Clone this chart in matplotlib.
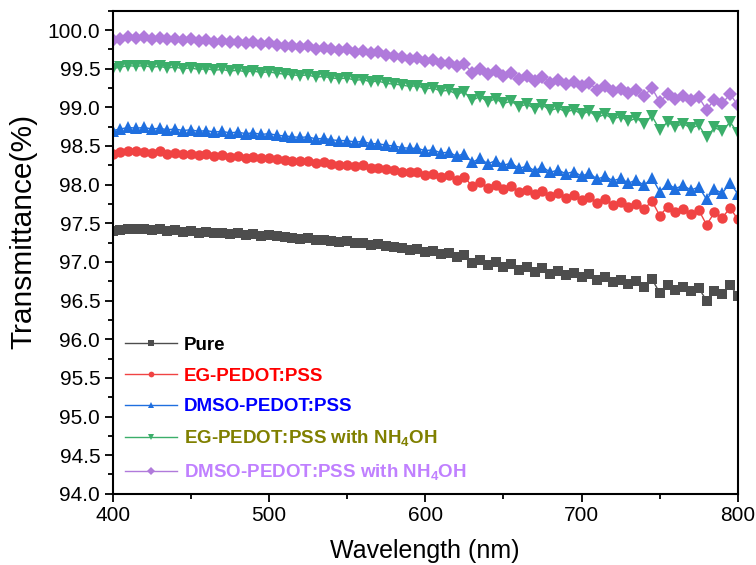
import numpy as np
import matplotlib
matplotlib.use('Agg')
import matplotlib.pyplot as plt
from matplotlib.ticker import MultipleLocator, FormatStrFormatter

plt.rcParams['font.family'] = ['Liberation Sans', 'DejaVu Sans']
plt.rcParams['mathtext.fontset'] = 'custom'
plt.rcParams['mathtext.rm'] = 'Liberation Sans'
plt.rcParams['mathtext.bf'] = 'Liberation Sans:bold'

# wavelength grid (nm), values every 5 nm
wavelength = np.arange(400, 801, 5)

pure = [97.40, 97.41, 97.43, 97.42, 97.43, 97.41, 97.42, 97.40, 97.41, 97.39,
        97.40, 97.38, 97.39, 97.37, 97.38, 97.36, 97.37, 97.35, 97.36, 97.34,
        97.35, 97.33, 97.32, 97.31, 97.30, 97.31, 97.28, 97.29, 97.27, 97.26,
        97.27, 97.24, 97.25, 97.22, 97.23, 97.20, 97.19, 97.18, 97.16, 97.17,
        97.13, 97.14, 97.10, 97.11, 97.06, 97.09, 96.98, 97.03, 96.96, 97.00,
        96.94, 96.97, 96.90, 96.93, 96.87, 96.92, 96.85, 96.88, 96.83, 96.86,
        96.80, 96.84, 96.76, 96.80, 96.74, 96.77, 96.71, 96.75, 96.68, 96.78,
        96.60, 96.70, 96.64, 96.68, 96.62, 96.66, 96.50, 96.63, 96.58, 96.70,
        96.56]

eg = [98.40, 98.42, 98.43, 98.44, 98.42, 98.41, 98.43, 98.40, 98.41, 98.40,
      98.39, 98.38, 98.39, 98.37, 98.38, 98.36, 98.37, 98.35, 98.36, 98.35,
      98.34, 98.33, 98.32, 98.31, 98.31, 98.30, 98.28, 98.29, 98.27, 98.26,
      98.26, 98.24, 98.25, 98.22, 98.22, 98.20, 98.19, 98.17, 98.16, 98.16,
      98.13, 98.14, 98.10, 98.12, 98.06, 98.10, 97.98, 98.04, 97.96, 98.00,
      97.94, 97.98, 97.91, 97.93, 97.88, 97.92, 97.85, 97.89, 97.83, 97.87,
      97.80, 97.84, 97.76, 97.81, 97.74, 97.77, 97.71, 97.75, 97.68, 97.79,
      97.60, 97.71, 97.64, 97.69, 97.62, 97.67, 97.48, 97.64, 97.57, 97.70,
      97.55]

dmso = [98.70, 98.72, 98.74, 98.73, 98.74, 98.72, 98.73, 98.71, 98.72, 98.70,
        98.71, 98.69, 98.70, 98.68, 98.69, 98.67, 98.68, 98.66, 98.67, 98.65,
        98.66, 98.64, 98.63, 98.62, 98.61, 98.62, 98.59, 98.60, 98.58, 98.57,
        98.57, 98.55, 98.56, 98.53, 98.53, 98.51, 98.50, 98.48, 98.47, 98.47,
        98.44, 98.45, 98.41, 98.42, 98.37, 98.40, 98.29, 98.34, 98.27, 98.31,
        98.25, 98.28, 98.21, 98.24, 98.18, 98.23, 98.16, 98.19, 98.14, 98.17,
        98.11, 98.15, 98.07, 98.11, 98.05, 98.08, 98.02, 98.06, 97.99, 98.09,
        97.91, 98.01, 97.95, 97.99, 97.93, 97.97, 97.81, 97.94, 97.89, 98.02,
        97.88]

eg_nh4oh = [99.50, 99.52, 99.54, 99.53, 99.54, 99.52, 99.53, 99.51, 99.52, 99.50,
            99.51, 99.49, 99.50, 99.48, 99.49, 99.47, 99.48, 99.46, 99.47, 99.45,
            99.46, 99.44, 99.43, 99.42, 99.41, 99.42, 99.39, 99.40, 99.38, 99.37,
            99.38, 99.35, 99.36, 99.33, 99.34, 99.31, 99.30, 99.29, 99.27, 99.28,
            99.24, 99.25, 99.21, 99.22, 99.17, 99.20, 99.09, 99.14, 99.07, 99.11,
            99.05, 99.08, 99.01, 99.04, 98.98, 99.03, 98.96, 98.99, 98.94, 98.97,
            98.91, 98.95, 98.87, 98.91, 98.85, 98.88, 98.82, 98.86, 98.79, 98.89,
            98.71, 98.81, 98.75, 98.79, 98.73, 98.77, 98.61, 98.74, 98.69, 98.81,
            98.67]

dmso_nh4oh = [99.87, 99.89, 99.91, 99.90, 99.91, 99.89, 99.90, 99.88, 99.89, 99.87,
              99.88, 99.86, 99.87, 99.85, 99.86, 99.84, 99.85, 99.83, 99.84, 99.82,
              99.83, 99.81, 99.80, 99.79, 99.78, 99.79, 99.76, 99.77, 99.75, 99.74,
              99.75, 99.72, 99.73, 99.70, 99.71, 99.68, 99.67, 99.65, 99.63, 99.64,
              99.60, 99.61, 99.57, 99.58, 99.53, 99.56, 99.45, 99.50, 99.43, 99.47,
              99.41, 99.44, 99.37, 99.40, 99.34, 99.39, 99.32, 99.35, 99.30, 99.33,
              99.27, 99.31, 99.23, 99.27, 99.21, 99.24, 99.18, 99.22, 99.15, 99.25,
              99.07, 99.17, 99.11, 99.15, 99.09, 99.13, 98.97, 99.10, 99.05, 99.17,
              99.03]

labels = ['Pure', 'EG-PEDOT:PSS', 'DMSO-PEDOT:PSS',
          r'EG-PEDOT:PSS with NH$_\mathbf{4}$OH',
          r'DMSO-PEDOT:PSS with NH$_\mathbf{4}$OH']
series = [pure, eg, dmso, eg_nh4oh, dmso_nh4oh]
markers = ['s', 'o', '^', 'v', 'D']
sizes = [7, 7.5, 8, 8, 7]
line_colors = ['#4D4D4D', '#F04343', '#1F6FDF', '#3BAE6A', '#B07ADB']
text_colors = ['#000000', '#FF0000', '#0000FF', '#808000', '#C080FF']

fig = plt.figure(figsize=(7.56, 5.65), dpi=100)
ax = fig.add_axes([0.149, 0.126, 0.827, 0.855])

for y, lab, m, ms, c in zip(series, labels, markers, sizes, line_colors):
    ax.plot(wavelength, y, marker=m, markersize=ms, color=c, linewidth=1,
            markeredgewidth=0, label=lab)

ax.set_xlim(400, 800)
ax.set_ylim(94.0, 100.25)
ax.xaxis.set_major_locator(MultipleLocator(100))
ax.xaxis.set_minor_locator(MultipleLocator(50))
ax.yaxis.set_major_locator(MultipleLocator(0.5))
ax.yaxis.set_minor_locator(MultipleLocator(0.25))
ax.yaxis.set_major_formatter(FormatStrFormatter('%.1f'))
ax.tick_params(which='major', direction='out', length=6, width=1.3,
               labelsize=15, pad=3)
ax.tick_params(which='minor', direction='out', length=3.5, width=1.3)
for sp in ax.spines.values():
    sp.set_linewidth(1.5)

ax.set_xlabel('Wavelength (nm)', fontsize=18, labelpad=10)
ax.set_ylabel('Transmittance(%)', fontsize=21.5)
ax.yaxis.set_label_coords(-0.12, 0.544)

leg = ax.legend(loc='lower left', bbox_to_anchor=(-0.008, -0.012), frameon=False,
                prop={'weight': 'bold', 'size': 13.5}, handlelength=2.8,
                handletextpad=0.35, markerscale=0.55, labelspacing=0.72)
for txt, c in zip(leg.get_texts(), text_colors):
    txt.set_color(c)

fig.savefig('out.png', dpi=100)
